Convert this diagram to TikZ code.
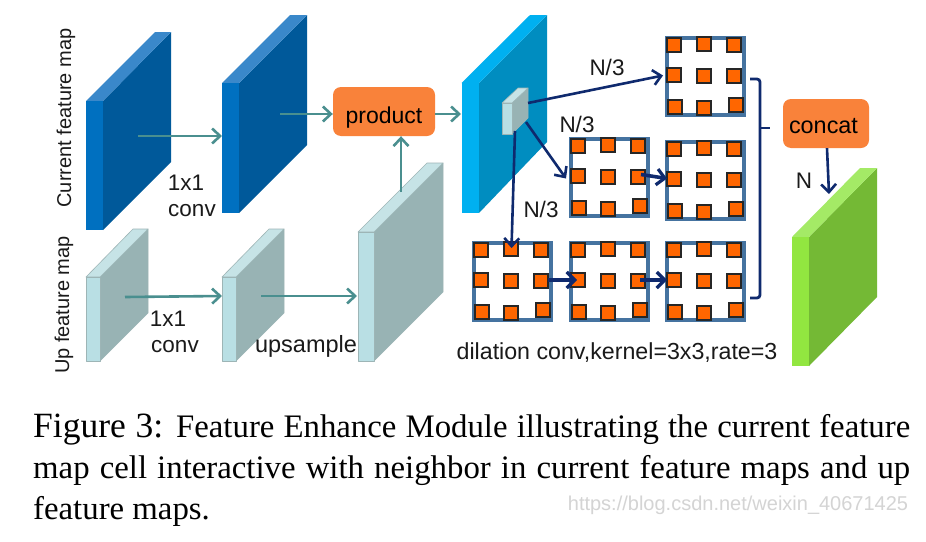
\documentclass[tikz,border=0pt]{standalone}
\usepackage{fontspec}
\setmainfont{Liberation Sans}
\newfontfamily\capfont{Liberation Serif}
\usetikzlibrary{arrows.meta,calc}
\definecolor{tealarrow}{HTML}{4A8F8F}
\definecolor{navyarrow}{HTML}{0F2A6E}
\definecolor{framecol}{HTML}{4573A0}
\definecolor{sqfill}{HTML}{FF6600}
\definecolor{orangebox}{HTML}{F9823A}
\definecolor{txtcol}{HTML}{1A1A1A}
\definecolor{bf}{HTML}{0070C0}\definecolor{bt}{HTML}{3A88CA}\definecolor{bs}{HTML}{00599A}
\definecolor{lf}{HTML}{B9DFE4}\definecolor{lt}{HTML}{C6E3E6}\definecolor{ls}{HTML}{98B3B4}\definecolor{le}{HTML}{9DB5B6}
\definecolor{cf}{HTML}{00B0F0}\definecolor{cs}{HTML}{008DC0}
\definecolor{gf}{HTML}{92E640}\definecolor{gt}{HTML}{A4EA66}\definecolor{gs}{HTML}{74B935}
\tikzset{
  teal arrow/.style={draw=tealarrow,line width=2.6pt,-{Straight Barb[length=8pt,width=15pt,line width=2.6pt]}},
  navy arrow/.style={draw=navyarrow,line width=2.6pt,-{Straight Barb[length=8pt,width=15pt,line width=2.6pt]}},
  thick navy/.style={draw=navyarrow,line width=3.6pt,-{Straight Barb[length=8pt,width=16pt,line width=3.2pt]}},
  lab/.style={text=txtcol,inner sep=0pt,font=\fontsize{22.5pt}{24pt}\selectfont},
  rotlab/.style={text=txtcol,inner sep=0pt,rotate=90,font=\fontsize{20pt}{22pt}\selectfont},
  capline/.style={anchor=base west,inner sep=0pt,text=black,font=\capfont\fontsize{32.8pt}{40pt}\selectfont},
  opbox/.style={fill=orangebox,rounded corners=8pt,inner sep=0pt,text=black},
  gridframe/.style={draw=framecol,line width=4pt,fill=white,minimum width=77pt,minimum height=77pt,inner sep=0pt,outer sep=0pt,anchor=north west},
  sq/.style={draw=black!85,line width=1.6pt,fill=sqfill},
}
% x0 front left, x1 front right, x2 back left, x3 back right, y: front top, front bottom, back top, back bottom
\newcommand{\slab}[8]{%
  \def\xa{#1}\def\xb{#2}\def\xc{#3}\def\xd{#4}\def\ya{#5}\def\yb{#6}\def\yc{#7}\def\yd{#8}%
  \slabdraw}
\newcommand{\slabcolors}[4]{\def\cf{#1}\def\ct{#2}\def\cs{#3}\def\ce{#4}}
\newcommand{\slabdraw}{%
  \fill[\cs,draw=\ce,line width=.6pt,line join=round] (\xb,\ya)--(\xd,\yc)--(\xd,\yd)--(\xb,\yb)--cycle;
  \fill[\ct,draw=\ce,line width=.6pt,line join=round] (\xa,\ya)--(\xc,\yc)--(\xd,\yc)--(\xb,\ya)--cycle;
  \fill[\cf,draw=\ce,line width=.6pt,line join=round] (\xa,\ya)--(\xb,\ya)--(\xb,\yb)--(\xa,\yb)--cycle;}
\newcommand{\gridcell}[3]{%
  \node[gridframe] (#1) at (#2+2,#3+2) {};
  \foreach \px/\py in {9/9,39/8,69/9,9/39,39/40,69/40,10/71,39/72,71/69}{
    \draw[sq] (#2+\px-6.8,#3+\py-6.8) rectangle ++(13.6,13.6);}}
\begin{document}
\begin{tikzpicture}[x=1pt,y=-1pt]
\useasboundingbox[fill=white] (0,0) rectangle (926,541);
\slabcolors{bf}{bt}{bs}{none}
\slab{86}{103}{155}{171}{101}{230}{32}{162}
\slab{222}{239}{290}{307}{83}{213}{15}{145}
\slabcolors{lf}{lt}{ls}{le}
\slab{86}{100}{133}{148}{277}{361}{229}{313}
\slab{222}{236}{269}{284}{277}{361}{229}{313}
\slab{358}{374}{427}{443}{232}{361}{163}{292}
\slabcolors{cf}{cf}{cs}{none}
\slab{461.5}{479}{530}{547}{83}{213}{15}{142}
\slabcolors{lf}{lt}{ls}{le}
\slab{502}{512}{518}{528}{103}{134}{88}{118}
\slabcolors{gf}{gt}{gs}{none}
\slab{792}{809}{860}{877}{237}{366}{168}{297}
% named connector ends
\coordinate (cur1) at (138,136);
\coordinate (cur2in) at (222,136);
\coordinate (cur2) at (280,114);
\coordinate (up1) at (125,297);
\coordinate (up2in) at (222,296);
\coordinate (up2) at (261,296);
\coordinate (up3in) at (357,296);
\coordinate (up3) at (401,192);
\coordinate (cyanin) at (461,114);
\coordinate (cellr) at (528,103);
\coordinate (cellb) at (526,122);
\coordinate (celld) at (515,131);
\coordinate (bracetop) at (750,79);
\coordinate (bracebot) at (750,298);
\coordinate (greenin) at (829,194);
% boxes
\node[opbox,minimum width=102pt,minimum height=49pt,text height=23pt,text depth=0pt,font=\fontsize{23pt}{25pt}\selectfont] (product) at (384,111.5) {product};
\node[opbox,minimum width=86pt,minimum height=49pt,text height=19pt,text depth=0pt,font=\fontsize{23.4pt}{25pt}\selectfont] (concat) at (826,123.5) {\hspace*{-5pt}concat};
% grids
\gridcell{g1}{665}{36}
\gridcell{g2}{569}{137}
\gridcell{g3}{665}{140}
\gridcell{g4}{472}{241}
\gridcell{g5}{569}{241}
\gridcell{g6}{665}{241}
% teal arrows
\draw[teal arrow] (cur1) -- (cur2in);
\draw[teal arrow] (cur2) -- (product.west |- cur2);
\draw[teal arrow] (product.east |- cyanin) -- (cyanin);
\draw[teal arrow] (up1) -- (up2in);
\draw[teal arrow] (up2) -- (up3in);
\draw[teal arrow] (up3) -- (up3 |- product.south);
% navy arrows
\draw[navy arrow] (cellr) -- ([xshift=-4pt,yshift=1pt]g1.west);
\draw[navy arrow] (cellb) -- ([xshift=-5pt,yshift=-1pt]g2.west);
\draw[navy arrow] (celld) -- ([xshift=-1pt,yshift=-5pt]g4.north);
\draw[thick navy] ([xshift=-7pt,yshift=3pt]g2.east) -- ([yshift=2pt]g3.west);
\draw[thick navy] ([xshift=-3pt,yshift=1.5pt]g4.east) -- ([xshift=6pt,yshift=1.5pt]g5.west);
\draw[thick navy] ([xshift=-8pt,yshift=1.5pt]g5.east) -- ([yshift=1.5pt]g6.west);
\draw[navyarrow,line width=2.8pt,rounded corners=3pt] (bracetop) -- (760,79) -- (760,298) -- (bracebot);
\draw[navyarrow,line width=2.8pt] (760,128) -- (770,128);
\draw[navy arrow] ([xshift=1pt]concat.south) -- (greenin);
% labels
\node[rotlab] (lcur) at (66,118) {Current feature map};
\node[rotlab] (lup) at (64,305) {Up feature map};
\node[lab] (a1) at (186,183) {1x1};
\node[lab] (a2) at (192,211) {conv};
\node[lab] (b1) at (168,319) {1x1};
\node[lab] (b2) at (175,347) {conv};
\node[lab,font=\fontsize{23.5pt}{25pt}\selectfont] (ups) at (306,346) {upsample};
\node[lab] (n1) at (607,67) {N/3};
\node[lab] (n2) at (577,124) {N/3};
\node[lab] (n3) at (541,209) {N/3};
\node[lab] (n4) at (804,181) {N};
\node[lab,font=\fontsize{23.2pt}{25pt}\selectfont] (dil) at (617,353) {dilation conv,kernel=3x3,rate=3};
% caption
\node[capline] (c1) at (33,437) {\makebox[877pt][s]{{\fontsize{35.5pt}{40pt}\selectfont Figure 3:} Feature Enhance Module illustrating the current feature}};
\node[capline] (c2) at (33,478) {\makebox[877pt][s]{map cell interactive with neighbor in current feature maps and up}};
\node[capline] (c3) at (33,519) {feature maps.};
\node[inner sep=0pt,text=black!17,font=\fontsize{20pt}{22pt}\selectfont] (wm) at (738,505) {https://blog.csdn.net/weixin\_40671425};
\end{tikzpicture}
\end{document}
